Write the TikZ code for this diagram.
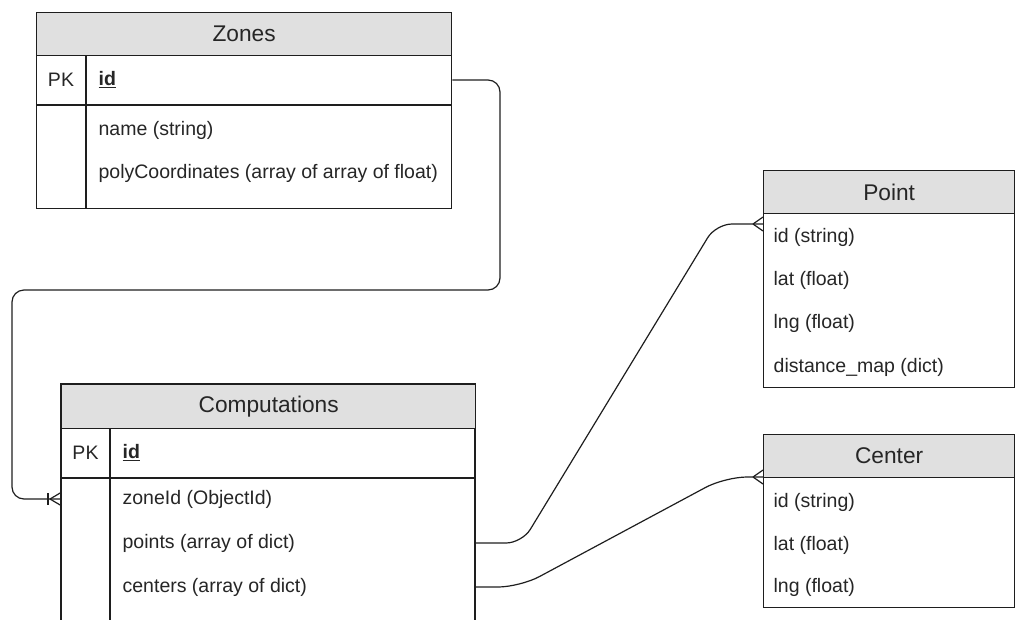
\documentclass[tikz,border=0pt]{standalone}
\usepackage{fontspec}
\setmainfont{Liberation Sans}
\definecolor{hdr}{RGB}{224,224,224}
\definecolor{ln}{RGB}{30,30,30}
\tikzset{
  tblbox/.style={draw=ln, fill=white, inner sep=0pt, anchor=north west},
  hdrbox/.style={draw=ln, fill=hdr, inner sep=0pt, anchor=north west, text=black!85, font=\fontsize{22.7}{26}\selectfont},
  fld/.style={anchor=west, inner sep=0pt, text=black!85},
  pk/.style={anchor=center, inner sep=0pt, text=black!85},
  conn/.style={draw=ln, line width=1.2pt},
}
\begin{document}
\begin{tikzpicture}[x=1pt,y=-1pt, font=\fontsize{19.5}{23}\selectfont, line width=1.3pt]
\useasboundingbox (0,0) rectangle (1016,619);

% ---------- Zones ----------
\node[tblbox, minimum width=415pt, minimum height=196pt] (zones) at (36,12) {};
\node[hdrbox, minimum width=415pt, minimum height=43pt] (zonesH) at (36,12) {Zones};
\draw[ln] (36,105) -- (451,105);
\draw[ln] (86,55) -- (86,208);
\node[pk] (zpk) at (61,80) {PK};
\node[fld] (zid) at (98,80) {\underline{\textbf{id}}};
\node[fld] (zname) at (98,130) {name (string)};
\node[fld] (zpoly) at (98,173) {polyCoordinates (array of array of float)};

% ---------- Computations ----------
\fill[white] (61,384) rectangle (475,625);
\draw[ln] (61,625) -- (61,384) -- (475,384) -- (475,625);
\node[hdrbox, minimum width=414pt, minimum height=44pt] (compH) at (61,384) {Computations};
\draw[ln] (61,478) -- (475,478);
\draw[ln] (110,428) -- (110,625);
\node[pk] (cpk) at (85.5,453) {PK};
\node[fld] (cid) at (122,453) {\underline{\textbf{id}}};
\node[fld] (czone) at (122,499) {zoneId (ObjectId)};
\node[fld] (cpoints) at (122,543) {points (array of dict)};
\node[fld] (ccenters) at (122,587) {centers (array of dict)};
\coordinate (compW) at (61,499);
\coordinate (compEp) at (475,543);
\coordinate (compEc) at (475,587);

% ---------- Point ----------
\node[tblbox, minimum width=251pt, minimum height=217pt] (point) at (763,170) {};
\node[hdrbox, minimum width=251pt, minimum height=43pt] (pointH) at (763,170) {Point};
\node[fld] (pid) at (773,237) {id (string)};
\node[fld] (plat) at (773,280) {lat (float)};
\node[fld] (plng) at (773,323) {lng (float)};
\node[fld] (pdist) at (773,367) {distance\_map (dict)};
\coordinate (pointW) at (763,224);

% ---------- Center ----------
\node[tblbox, minimum width=251pt, minimum height=173pt] (center) at (763,434) {};
\node[hdrbox, minimum width=251pt, minimum height=43pt] (centerH) at (763,434) {Center};
\node[fld] (ceid) at (773,502) {id (string)};
\node[fld] (celat) at (773,545) {lat (float)};
\node[fld] (celng) at (773,587) {lng (float)};
\coordinate (centerW) at (763,477);

% ---------- Connectors ----------
\draw[conn, rounded corners=12pt] (zones.east |- zid) -- (500,80) -- (500,290) -- (12,290) -- (12,499) -- (compW);
% crow's foot (one-or-many) at Computations
\draw[conn] (48,493) -- (48,505);
\draw[conn] (50,499) -- (61,492.5);
\draw[conn] (50,499) -- (61,505.5);

\draw[conn, rounded corners=16pt] (compEp) -- (522,543) -- (716,224) -- (pointW);
\draw[conn] (753,224) -- (763,217);
\draw[conn] (753,224) -- (763,231);

\draw[conn, rounded corners=22pt] (compEc) -- (520,587) -- (725,477) -- (centerW);
\draw[conn] (753,477) -- (763,470);
\draw[conn] (753,477) -- (763,484);
\end{tikzpicture}
\end{document}
